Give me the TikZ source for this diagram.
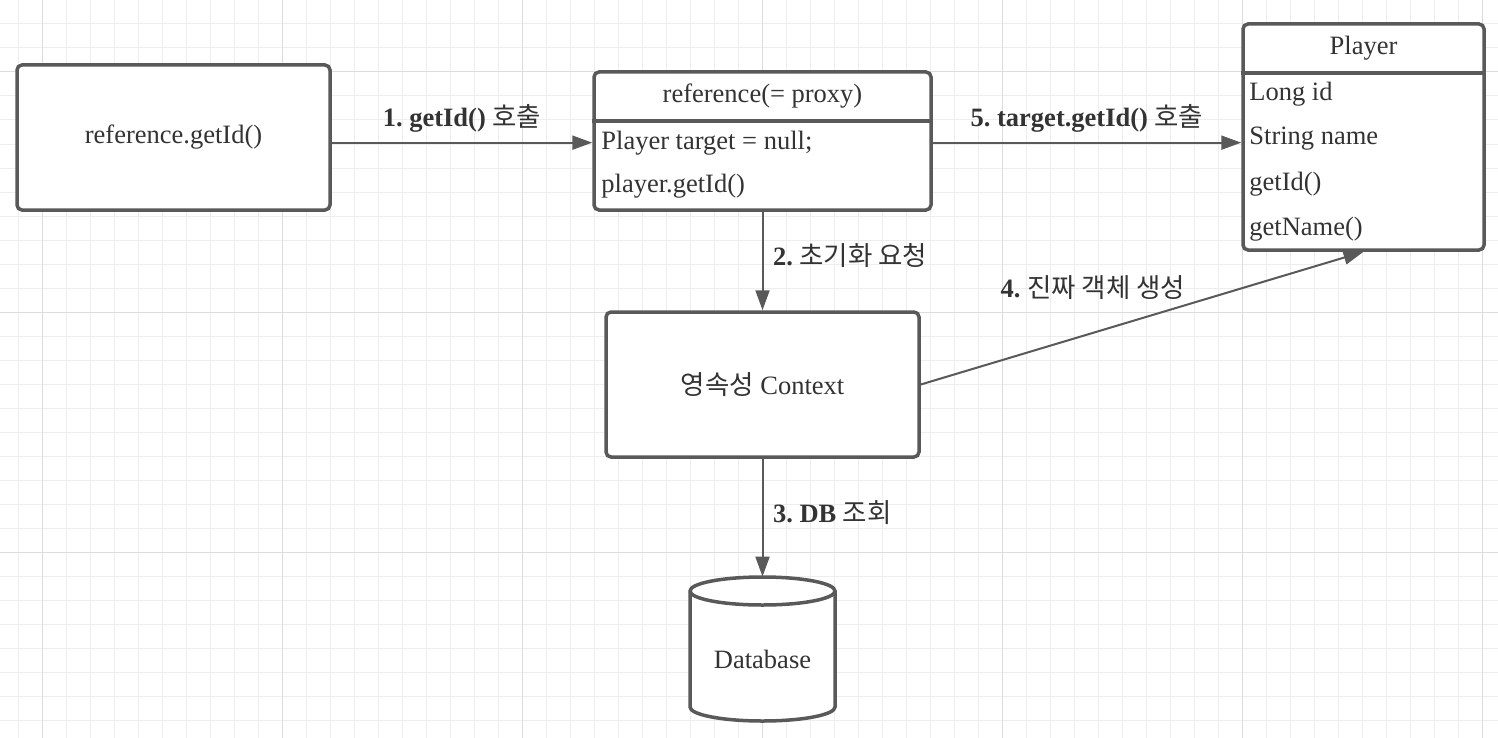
\documentclass[tikz,border=0pt]{standalone}
\usepackage{fontspec}
\setmainfont{Liberation Serif}
\newfontfamily\kr{Noto Sans CJK KR}
\usetikzlibrary{arrows.meta,calc}
\definecolor{linec}{HTML}{595959}
\definecolor{txt}{HTML}{333333}
\definecolor{gridminor}{HTML}{EDEDED}
\definecolor{gridmajor}{HTML}{DCDCDC}
\frenchspacing
\begin{document}
\begin{tikzpicture}[x=0.5pt,y=-0.5pt,
  font=\fontsize{13.25}{16}\selectfont, text=txt,
  box/.style={draw=linec, line width=1.75pt, rounded corners=2.5pt, fill=white, inner sep=0pt},
  divider/.style={draw=linec, line width=1.75pt},
  arr/.style={draw=linec, line width=1pt, -{Triangle[length=10pt,width=7pt]}},
  lbl/.style={font=\fontsize{13.25}{16}\selectfont\bfseries, inner sep=0pt},
  row/.style={anchor=base west, inner sep=0pt},
  head/.style={anchor=base, inner sep=0pt},
  gmin/.style={draw=gridminor, line width=0.5pt},
  gmaj/.style={draw=gridmajor, line width=0.5pt}]
\useasboundingbox (0,0) rectangle (1498,738);
\fill[white] (0,0) rectangle (1498,738);
% grid
\foreach \x in {18,42,...,1498} \draw[gmin] (\x,0) -- (\x,738);
\foreach \y in {0,24,...,738} \draw[gmin] (0,\y) -- (1498,\y);
\foreach \x in {42,282,...,1498} \draw[gmaj] (\x,0) -- (\x,738);
\foreach \y in {72,312,552} \draw[gmaj] (0,\y) -- (1498,\y);

% reference.getId()
\node[box, minimum width=156.5pt, minimum height=72.5pt] (refcall) at (173.5,137.5) {reference.getId()};

% proxy box
\node[box, minimum width=168.5pt, minimum height=69pt] (proxy) at (762.5,141) {};
\coordinate (pdiv) at (0,121);
\draw[divider] (proxy.west |- pdiv) -- (proxy.east |- pdiv);
\node[head] (proxyhead) at (762.5,102.7) {reference(= proxy)};
\node[row] (prow1) at (601,149) {Player target = null;};
\node[row] (prow2) at (601,192) {player.getId()};

% Player box
\node[box, minimum width=120.5pt, minimum height=113pt] (player) at (1363.5,137) {};
\coordinate (pldiv) at (0,73);
\draw[divider] (player.west |- pldiv) -- (player.east |- pldiv);
\node[head] (playerhead) at (1363.5,55) {Player};
\node[row] (plrow1) at (1249,101) {Long id};
\node[row] (plrow2) at (1249,144) {String name};
\node[row] (plrow3) at (1249,190) {getId()};
\node[row] (plrow4) at (1249,235) {getName()};

% persistence context
\node[box, minimum width=156.5pt, minimum height=72.5pt] (ctx) at (762.5,384.5) {{\kr 영속성} Context};

% database
\node[inner sep=0pt, minimum width=72.5pt, minimum height=72pt] (db) at (762.5,649) {};
\filldraw[fill=white, draw=linec, line width=1.75pt]
  (690,591) -- (690,707) arc[start angle=180,end angle=360,x radius=36.25pt,y radius=7pt]
  -- (835,591) arc[start angle=0,end angle=180,x radius=36.25pt,y radius=7pt] -- cycle;
\draw[divider] (690,591) arc[start angle=180,end angle=360,x radius=36.25pt,y radius=7pt];
\node[head] (dbtxt) at (762.5,668) {Database};

% connectors
\draw[arr] (refcall.east |- prow1) -- node[lbl, midway, anchor=base, yshift=8pt] (l1) {1. getId() {\kr\mdseries 호출}} (prow1 -| proxy.west);
\draw[arr] (proxy.east |- prow1) -- node[lbl, midway, anchor=base, yshift=8pt] (l5) {5. target.getId() {\kr\mdseries 호출}} (prow1 -| player.west);
\draw[arr] (proxy.south) -- node[lbl, midway, anchor=base west, xshift=4.75pt, yshift=-2pt] (l2) {2. {\kr\mdseries 초기화 요청}} (ctx.north);
\draw[arr] (ctx.east) -- node[lbl, pos=0.178, anchor=base west, yshift=31.8pt] (l4) {4. {\kr\mdseries 진짜 객체 생성}} (player.south);
\draw[arr] (ctx.south) -- node[lbl, midway, anchor=base west, xshift=4.75pt, yshift=-2.3pt] (l3) {3. DB {\kr\mdseries 조회}} (db.north);
\end{tikzpicture}
\end{document}
